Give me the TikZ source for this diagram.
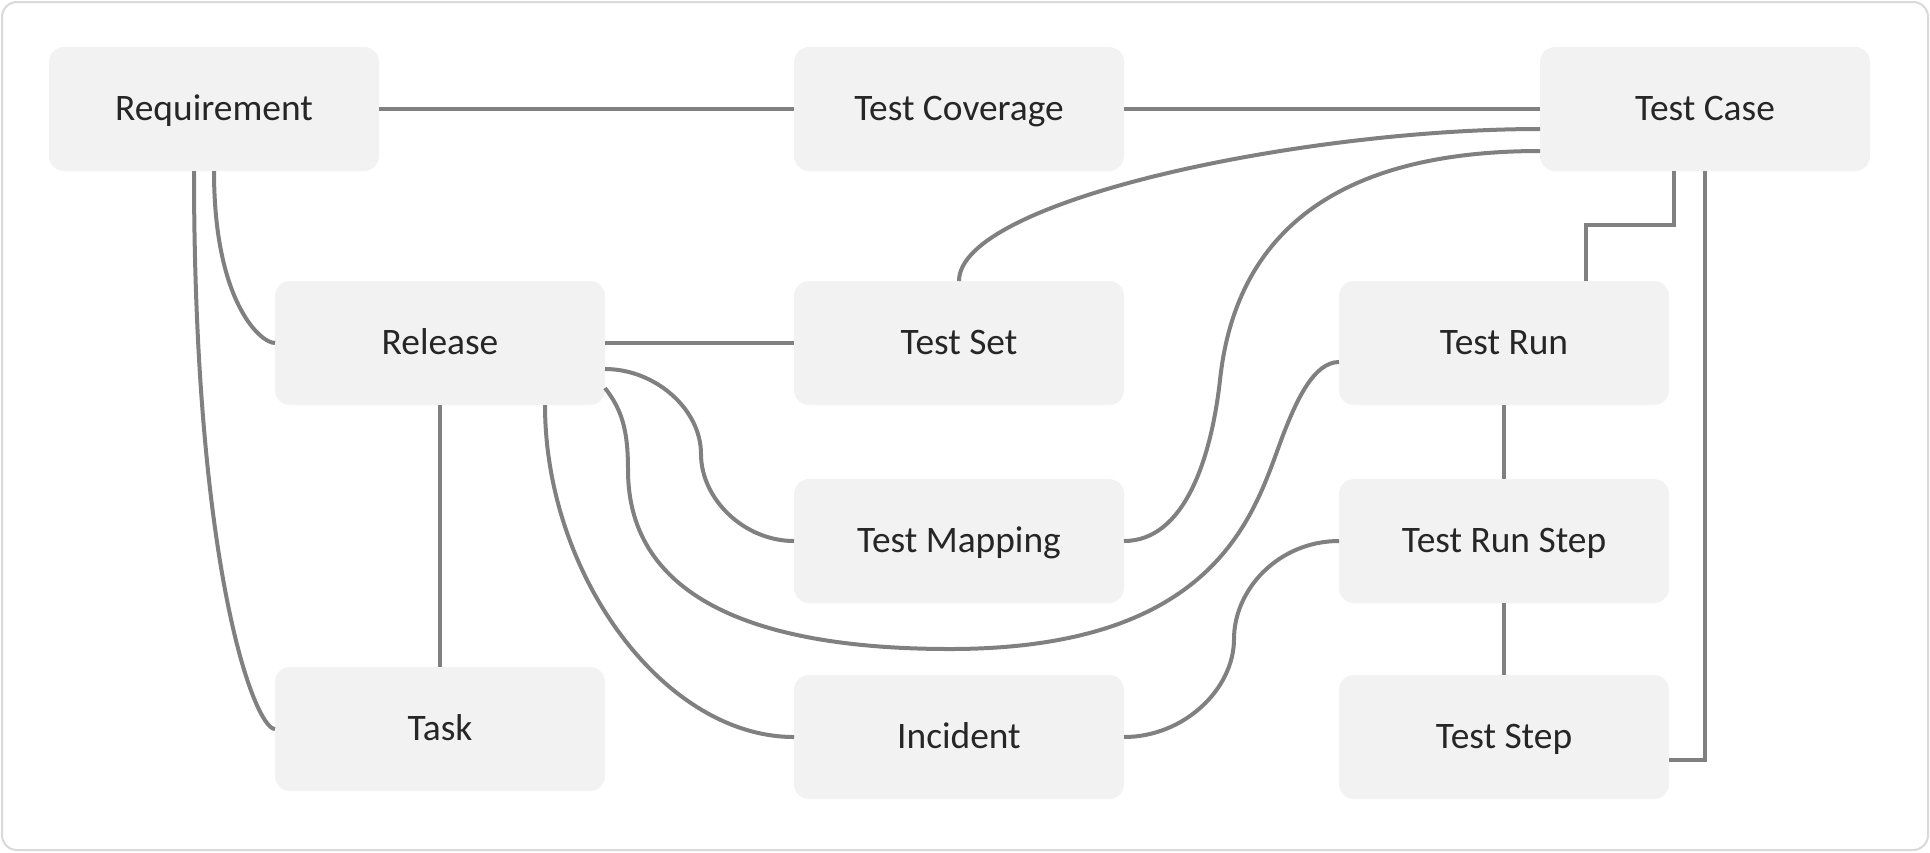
\documentclass[tikz,border=0pt]{standalone}
\usepackage{fontspec}
\setmainfont{Carlito}
\usepackage{tikz}
\usetikzlibrary{positioning}
\definecolor{my_boxgray}{RGB}{242, 242, 242}
\definecolor{my_linegray}{RGB}{128, 128, 128}
\definecolor{my_framegray}{RGB}{217, 217, 217}
\definecolor{my_text}{RGB}{38, 38, 38}
\tikzset {
  frame/.style = {draw=my_framegray, line width=1pt, rounded corners=7.5pt},
  box/.style = {fill=my_boxgray, rounded corners=7.5pt, rectangle, minimum width=165pt, minimum height=62pt, text height=11.8pt, text depth=0pt, text=my_text, font=\fontsize{18.7pt}{22pt}\selectfont},
  line/.style = {line width=2pt, color=my_linegray},
}

\begin{document}
\begin{tikzpicture}[outer sep=0pt, x=0.5pt, y=-0.5pt]
    \useasboundingbox (0,0) rectangle (1930,852);
    \draw[frame] (2,2) rectangle (1928,850);

    \node[box] (req) at (214,109) {Requirement};
    \node[box, right=207.5pt of req] (cov) {Test Coverage};
    \node[box, right=208pt of cov] (case) {Test Case};
    \node[box, below=55pt of cov] (set) {Test Set};
    \node[box, left=94.5pt of set] (rel) {Release};
    \node[box, right=107.5pt of set] (run) {Test Run};
    \node[box, below=37pt of set] (map) {Test Mapping};
    \node[box, below=36pt of map] (inc) {Incident};
    \node[box, below=37pt of run] (trs) {Test Run Step};
    \node[box, below=36pt of trs] (step) {Test Step};
    \node[box, below=131pt of rel] (task) {Task};

    % straight links
    \draw[line] (req.east) -- (cov.west);
    \draw[line] (cov.east) -- (case.west);
    \draw[line] (rel.east) -- (set.west);
    \draw[line] (rel.south) -- (task.north);
    \draw[line] (run.south) -- (trs.north);
    \draw[line] (trs.south) -- (step.north);
    \draw[line] ([xshift=-15.75pt]case.south) -- ++(0,54) -| ([xshift=41pt]run.north);
    \draw[line] (case.south) |- ([yshift=-11.5pt]step.east);

    % curved links
    \draw[line] (req.south) .. controls +(0,130) and +(-15,0) .. (rel.west);
    \draw[line] ([xshift=-10pt]req.south) .. controls +(0,400) and +(-20,0) .. (task.west);
    \draw[line] ([yshift=-13pt]rel.east) .. controls +(50,0) and +(0,-45) .. (701,454)
        .. controls +(0,45) and +(-50,0) .. (map.west);
    \draw[line] ([xshift=52.5pt]rel.south) .. controls +(0,170) and +(-130,0) .. (inc.west);
    \draw[line] ([yshift=-22.5pt]rel.east) .. controls +(17,22) and +(0,-40) .. (628,470)
        .. controls +(0,130) and +(-190,0) .. (950,649)
        .. controls +(280,0) and +(-28,70) .. (1285,430)
        .. controls +(12,-30) and +(-25,0) .. ([yshift=-9.5pt]run.west);
    \draw[line] (set.north) .. controls +(0,-80) and +(-240,0) .. ([yshift=-10pt]case.west);
    \draw[line] (map.east) .. controls +(60,0) and +(-9,80) .. (1220,380)
        .. controls +(16,-150) and +(-200,0) .. ([yshift=-21pt]case.west);
    \draw[line] (inc.east) .. controls +(60,0) and +(0,50) .. (1234,639)
        .. controls +(0,-50) and +(-60,0) .. (trs.west);
\end{tikzpicture}
\end{document}
